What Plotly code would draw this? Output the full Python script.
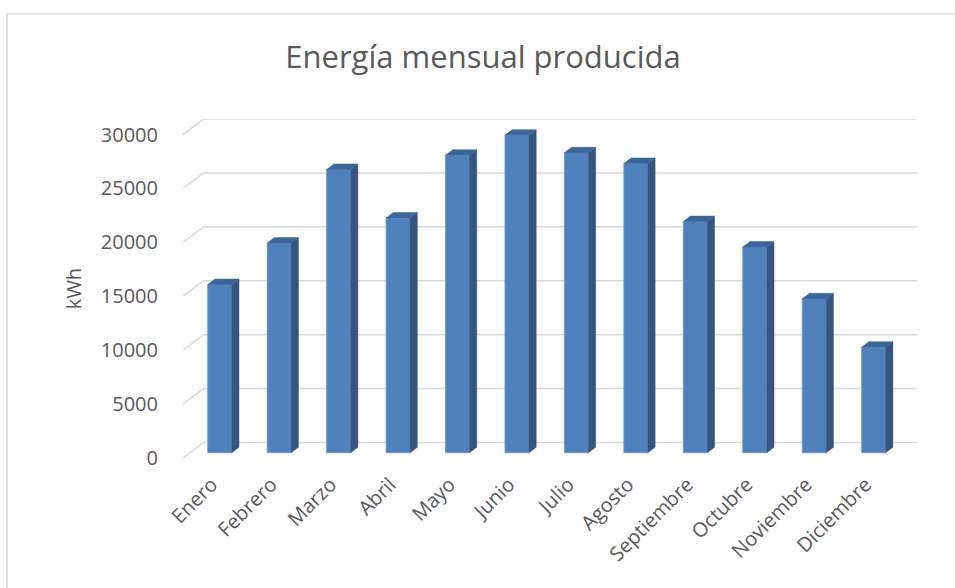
import plotly.graph_objects as go

meses = [
    "Enero", "Febrero", "Marzo", "Abril", "Mayo", "Junio",
    "Julio", "Agosto", "Septiembre", "Octubre", "Noviembre", "Diciembre",
]
energia_kwh = [15600, 19450, 26270, 21780, 27600, 29460, 27820, 26830, 21440, 19080, 14280, 9790]
y_ticks = [0, 5000, 10000, 15000, 20000, 25000, 30000]

_FRONT = "#4F81BD"
_SIDE = "#34567F"
_TOP = "#3C6699"
_GRID = "#D9D9D9"
_TEXT = "#595959"
_FONT = "Open Sans"

# oblique 3D look: floor depth (back wall -> front edge) in axis units
DEPTH_X = 0.347
DEPTH_Y = 1440
BAR_FRONT = 0.66  # depth fraction where the bar front face sits
BAR_BACK = 0.31   # depth fraction of the bar back face
BAR_W = 0.404

idx = list(range(len(meses)))
x_lo, x_hi = -0.5, len(meses) - 0.5
front_shift_x = BAR_FRONT * DEPTH_X
base = -BAR_FRONT * DEPTH_Y
dxb = (BAR_FRONT - BAR_BACK) * DEPTH_X
dyb = (BAR_FRONT - BAR_BACK) * DEPTH_Y

# back wall gridlines with the left wall diagonal, kept under the columns
grid_shapes = [
    dict(
        type="path", xref="x", yref="y", layer="below",
        path=f"M {x_lo - DEPTH_X},{t - DEPTH_Y} L {x_lo},{t} L {x_hi},{t}",
        line=dict(color=_GRID, width=1.5),
    )
    for t in y_ticks
]

# side and top faces of each column
sx, sy, tx, ty = [], [], [], []
for i, v in zip(idx, energia_kwh):
    xl = i - front_shift_x - BAR_W / 2
    xr = i - front_shift_x + BAR_W / 2
    top = base + v
    sx += [xr, xr, xr + dxb, xr + dxb, xr, None]
    sy += [base, top, top + dyb, base + dyb, base, None]
    tx += [xl, xr, xr + dxb, xl + dxb, xl, None]
    ty += [top, top, top + dyb, top + dyb, top, None]

fig = go.Figure()
fig.add_trace(go.Bar(
    x=idx,
    y=energia_kwh,
    base=base,
    width=BAR_W,
    offset=-front_shift_x - BAR_W / 2,
    marker=dict(color=_FRONT, line=dict(color="#7096CA", width=0.8)),
    name="kWh",
))
fig.add_trace(go.Scatter(
    x=sx, y=sy, mode="lines", fill="toself", fillcolor=_SIDE,
    line=dict(color=_SIDE, width=0.5), hoverinfo="skip",
))
fig.add_trace(go.Scatter(
    x=tx, y=ty, mode="lines", fill="toself", fillcolor=_TOP,
    line=dict(color=_TOP, width=0.5), hoverinfo="skip",
))

border = dict(
    type="rect", xref="paper", yref="paper",
    xsizemode="pixel", ysizemode="pixel", xanchor=0, yanchor=1,
    x0=7 - 183, x1=960 - 183, y0=119 - 14, y1=119 - 600,
    line=dict(color=_GRID, width=1.5), fillcolor="rgba(0,0,0,0)",
    layer="below",
)

fig.update_layout(
    width=955,
    height=588,
    showlegend=False,
    paper_bgcolor="white",
    plot_bgcolor="white",
    margin=dict(l=183, r=38, t=119, b=130),
    font=dict(family=_FONT, color=_TEXT, size=20),
    title=dict(
        text="Energía mensual producida",
        font=dict(family=_FONT, size=31, color=_TEXT),
        x=483 / 955, xanchor="center", xref="container",
        y=1 - 57 / 588, yanchor="middle", yref="container",
    ),
    xaxis=dict(
        range=[x_lo - DEPTH_X, x_hi],
        tickvals=[i - front_shift_x for i in idx],
        ticktext=meses,
        tickangle=-45,
        showgrid=False, zeroline=False, showline=False, ticks="",
        ticklabelstandoff=10,
        ticklabelshift=-8,
        tickfont=dict(size=20, color=_TEXT),
    ),
    yaxis=dict(
        range=[-DEPTH_Y, 30000],
        tickvals=[t - DEPTH_Y for t in y_ticks],
        ticktext=[str(t) for t in y_ticks],
        showgrid=False, zeroline=False, showline=False, ticks="",
        ticklabelstandoff=24,
        tickfont=dict(size=20, color=_TEXT),
        title=dict(text="kWh", standoff=13, font=dict(size=20, color=_TEXT)),
    ),
    shapes=grid_shapes + [border],
)

fig.write_html(
    "out.html",
    config={"displayModeBar": False},
    post_script="document.body.style.margin = '0';",
)
